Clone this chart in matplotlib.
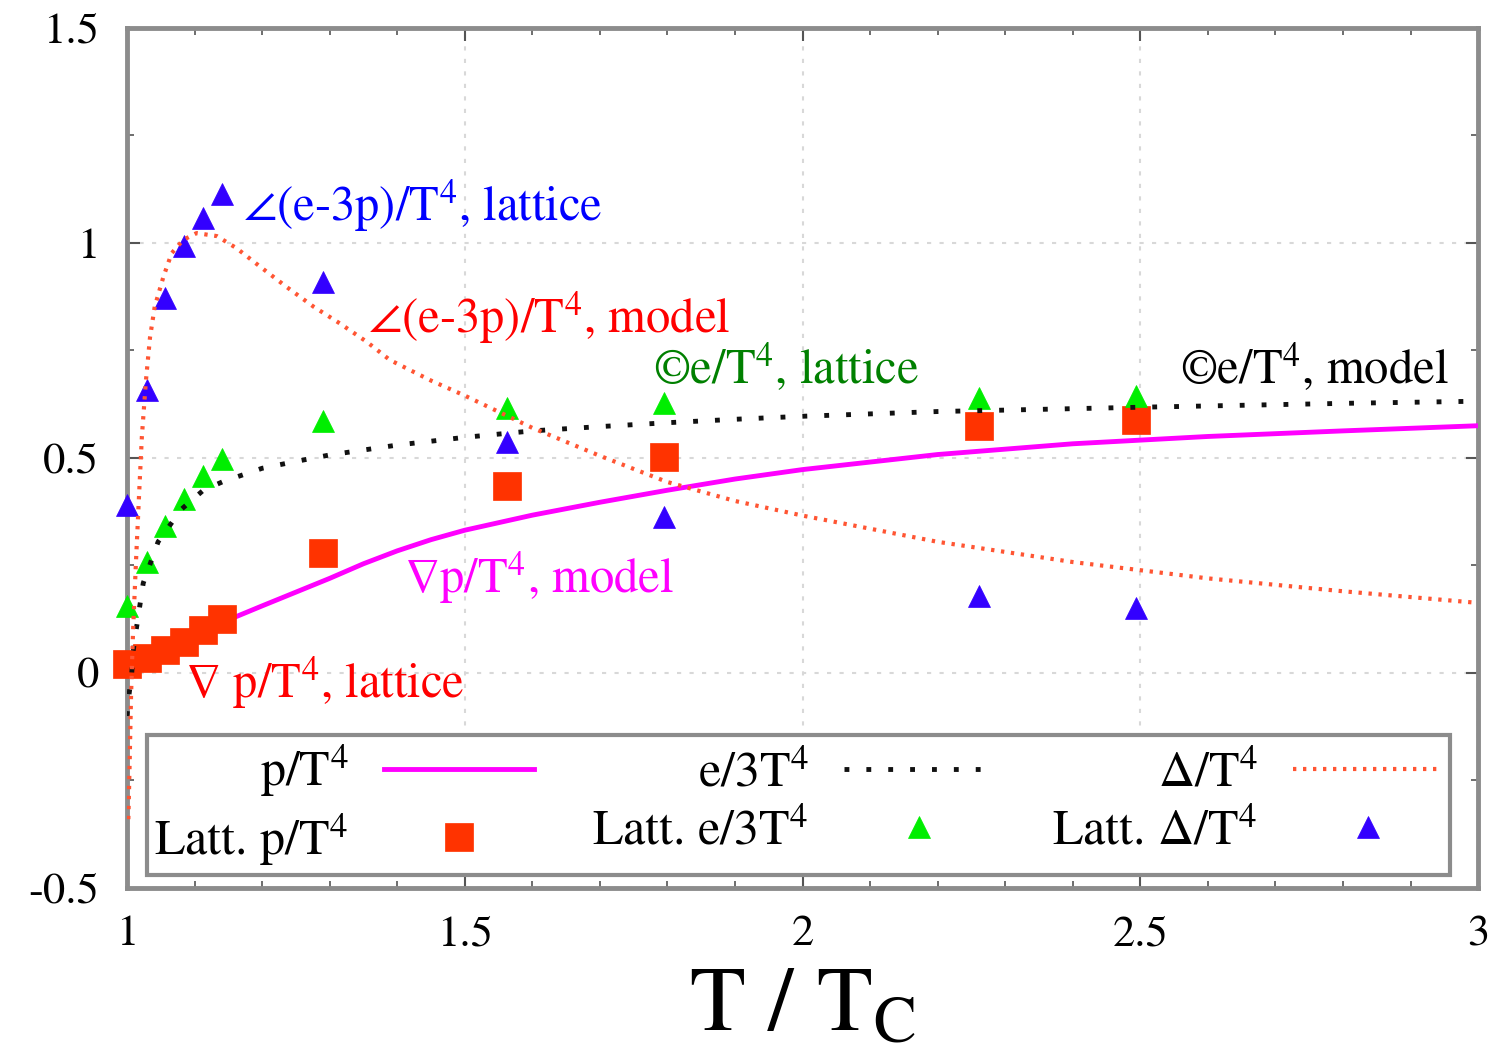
import matplotlib
matplotlib.use('Agg')
import matplotlib.pyplot as plt
from matplotlib.ticker import MultipleLocator

plt.rcParams['font.family'] = ['STIXGeneral', 'Liberation Serif', 'DejaVu Serif']
plt.rcParams['mathtext.fontset'] = 'stix'

# ---------------- data ----------------
# lattice points
t_latt = [1.0, 1.03, 1.056, 1.084, 1.112, 1.14, 1.29, 1.562, 1.795, 2.261, 2.494]
p_latt = [0.021, 0.035, 0.053, 0.073, 0.100, 0.125, 0.279, 0.435, 0.503, 0.574, 0.589]
e3_latt = [0.156, 0.259, 0.342, 0.405, 0.459, 0.498, 0.586, 0.617, 0.629, 0.639, 0.643]
delta_latt = [0.39, 0.658, 0.872, 0.993, 1.058, 1.114, 0.91, 0.538, 0.363, 0.179, 0.152]

# model curves
t_p_model = [1.0, 1.03, 1.06, 1.1, 1.13, 1.16, 1.2, 1.25, 1.3, 1.35, 1.4, 1.45, 1.5,
             1.6, 1.7, 1.8, 1.9, 2.0, 2.2, 2.4, 2.6, 2.8, 3.0]
p_model = [0.005, 0.035, 0.06, 0.094, 0.113, 0.13, 0.156, 0.188, 0.22, 0.254, 0.284, 0.31, 0.332,
           0.367, 0.397, 0.425, 0.451, 0.473, 0.508, 0.533, 0.55, 0.563, 0.575]

t_e3_model = [1.0, 1.003, 1.007, 1.009, 1.014, 1.024, 1.046, 1.08, 1.113, 1.142, 1.2,
              1.25, 1.3, 1.4, 1.5, 1.6, 1.7, 1.8, 1.9, 2.0, 2.2, 2.5, 2.8, 3.0]
e3_model = [-0.1, -0.05, 0.0, 0.05, 0.105, 0.209, 0.305, 0.38, 0.425, 0.445, 0.476,
            0.492, 0.507, 0.53, 0.548, 0.563, 0.573, 0.582, 0.59, 0.597, 0.608, 0.618, 0.627, 0.632]

t_delta_model = [1.002, 1.004, 1.006, 1.009, 1.013, 1.018, 1.022, 1.028, 1.034, 1.041,
                 1.054, 1.066, 1.083, 1.103, 1.133, 1.162, 1.197, 1.236, 1.276, 1.315,
                 1.355, 1.389, 1.45, 1.5, 1.6, 1.7, 1.8, 1.9, 2.0, 2.2, 2.4, 2.6, 2.8, 3.0]
delta_model = [-0.34, -0.2, -0.05, 0.1, 0.25, 0.42, 0.55, 0.68, 0.78, 0.852,
               0.922, 0.976, 1.007, 1.023, 1.016, 0.988, 0.945, 0.898, 0.852, 0.813,
               0.77, 0.728, 0.68, 0.645, 0.57, 0.505, 0.444, 0.40, 0.366, 0.305, 0.258, 0.22, 0.19, 0.163]

x_ticks = [1, 1.5, 2, 2.5, 3]
x_tick_labels = ['1', '1.5', '2', '2.5', '3']
y_ticks = [-0.5, 0, 0.5, 1, 1.5]
y_tick_labels = ['-0.5', '0', '0.5', '1', '1.5']

# ---------------- figure ----------------
fig = plt.figure(figsize=(15.05, 10.6), dpi=100)
ax = fig.add_axes([0.0844, 0.1623, 0.8977, 0.8113])

mk = dict(ls='none', mew=0.5, zorder=2.6, clip_on=False)
h_pl, = ax.plot(t_latt, p_latt, marker='s', ms=20, color='#ff3300', mec='#ff3300',
                label=r'Latt. p/T$^{4}$', **mk)
h_el, = ax.plot(t_latt, e3_latt, marker='^', ms=16, color='#00ee00', mec='#00ee00',
                label=r'Latt. e/3T$^{4}$', **mk)
h_dl, = ax.plot(t_latt, delta_latt, marker='^', ms=16, color='#3300ff', mec='#3300ff',
                label=r'Latt. Δ/T$^{4}$', **mk)

h_pm, = ax.plot(t_p_model, p_model, color='#ff00ff', lw=3.5, zorder=2.55, label=r'p/T$^{4}$')
h_em, = ax.plot(t_e3_model, e3_model, color='#111111', lw=3.5, dashes=(1, 3.5),
                zorder=3, label=r'e/3T$^{4}$')
h_dm, = ax.plot(t_delta_model, delta_model, color='#ff5533', lw=3, dashes=(0.8, 1.6),
                zorder=3, label=r'Δ/T$^{4}$')

ax.set_xlim(1, 3)
ax.set_ylim(-0.5, 1.5)
ax.set_xticks(x_ticks)
ax.set_xticklabels(x_tick_labels)
ax.set_yticks(y_ticks)
ax.set_yticklabels(y_tick_labels)
ax.xaxis.set_minor_locator(MultipleLocator(0.1))
ax.yaxis.set_minor_locator(MultipleLocator(0.25))
ax.tick_params(which='both', direction='in', top=True, right=True, color='#555555')
ax.tick_params(which='major', length=9, width=1.5, labelsize=32, pad=20)
ax.tick_params(which='minor', length=5, width=1.2)
ax.grid(True, which='major', color='#d8d8d8', linestyle=(0, (2, 4)), lw=1.5)
ax.set_axisbelow(True)
for s in ax.spines.values():
    s.set_color('#8c8c8c')
    s.set_linewidth(3.5)

ax.set_xlabel(r'T / T$_{\rm C}$', fontsize=66, labelpad=10)

# annotations
ann_kw = dict(fontsize=35, ha='left', va='baseline', zorder=4)
ax.text(1.172, 1.051, r'∠(e-3p)/T$^{4}$, lattice', color='#0000ff', **ann_kw)
ax.text(1.357, 0.791, r'∠(e-3p)/T$^{4}$, model', color='#ff0000', **ann_kw)
ax.text(1.779, 0.672, r'©e/T$^{4}$, lattice', color='#008000', **ann_kw)
ax.text(2.559, 0.672, r'©e/T$^{4}$, model', color='#000000', **ann_kw)
ax.text(1.41, 0.186, r'∇p/T$^{4}$, model', color='#ff00ff', **ann_kw)
ax.text(1.086, -0.058, r'∇ p/T$^{4}$, lattice', color='#ff0000', **ann_kw)

leg = ax.legend(handles=[h_pm, h_pl, h_em, h_el, h_dm, h_dl], ncol=3,
                markerfirst=False, loc='lower left',
                bbox_to_anchor=(0.015, 0.015, 0.964, 0.165), mode='expand',
                fontsize=36, handlelength=3.0, handletextpad=0.7,
                labelspacing=0.24, borderpad=0.14, borderaxespad=0,
                columnspacing=0.5, numpoints=1, fancybox=False, framealpha=1)
leg.get_frame().set_edgecolor('#8c8c8c')
leg.get_frame().set_linewidth(3)
leg.set_zorder(5)

fig.savefig('out.png', dpi=100)
